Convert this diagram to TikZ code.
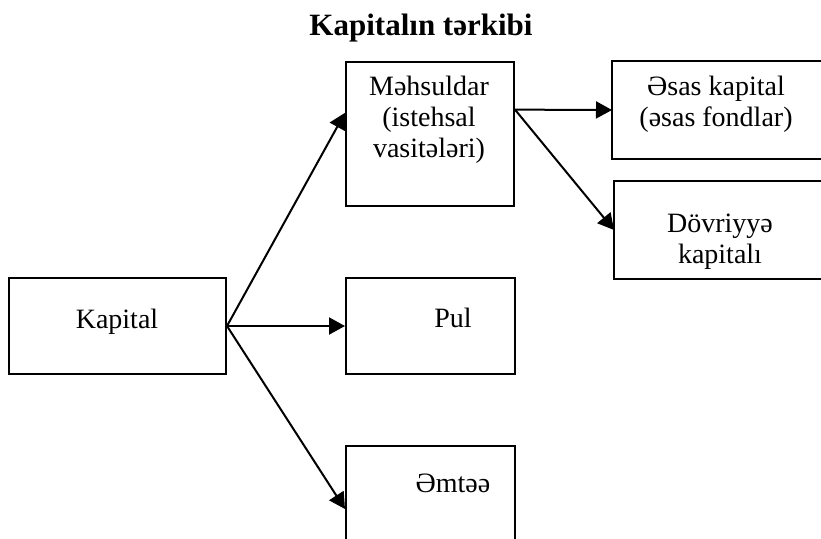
\documentclass[tikz,border=0pt]{standalone}
\usepackage{fontspec}
\setmainfont{Liberation Serif}
\usetikzlibrary{arrows.meta}

\begin{document}
\begin{tikzpicture}[x=0.5pt,y=-0.5pt]
        \useasboundingbox (0,0) rectangle (821,538);
        \node [anchor=base,font=\bfseries\fontsize{15.5}{18}\selectfont] (title) at (421,35) {Kapitalın tərkibi};

        \begin{scope}[every node/.style={rectangle,draw,line width=1pt,anchor=north west,inner sep=0pt}]
            \node [minimum width=108.5pt,minimum height=48pt] (kapital) at (8,277) {};
            \node [minimum width=84pt,minimum height=72pt]    (mahsul)  at (345,61) {};
            \node [draw=none,minimum width=110pt,minimum height=48pt] (esas) at (612,61) {};
            \node [draw=none,minimum width=110pt,minimum height=48pt] (dovr) at (614,181) {};
            \node [minimum width=84.5pt,minimum height=48pt]  (pul)     at (345,277) {};
            \node [minimum width=84.5pt,minimum height=60pt]  (emtee)   at (345,445) {};
        \end{scope}
        % the two boxes on the right run off the page
        \draw [line width=1pt] (esas.north east) -- (esas.north west) -- (esas.south west) -- (esas.south east);
        \draw [line width=1pt] (dovr.north east) -- (dovr.north west) -- (dovr.south west) -- (dovr.south east);

        \begin{scope}[every node/.style={anchor=north,inner sep=0pt,align=center,font=\fontsize{14}{15.5}\selectfont}]
            \node (kapitalTxt) at (117,309) {Kapital};
            \node (mahsulTxt)  at (429,76)  {Məhsuldar\\(istehsal\\vasitələri)};
            \node (esasTxt)    at (716,76)  {Əsas kapital\\(əsas fondlar)};
            \node (dovrTxt)    at (720,214) {Dövriyyə\\kapitalı};
            \node (pulTxt)     at (453,308) {Pul};
            \node (emteeTxt)   at (453,474) {Əmtəə};
        \end{scope}

        \begin{scope}[>={Triangle[length=8pt,width=8.5pt]},
                    every edge/.style={draw=black,line width=1pt}]
            \path [->] (kapital.east) edge (mahsul.166);
            \path [->] (kapital.east) edge (pul.west);
            \path [->] (kapital.east) edge (emtee.182);
            \path [->] (mahsul.16) edge (esas.west);
            \path [->] (mahsul.16) edge (dovr.west);
        \end{scope}
    \end{tikzpicture}
\end{document}
